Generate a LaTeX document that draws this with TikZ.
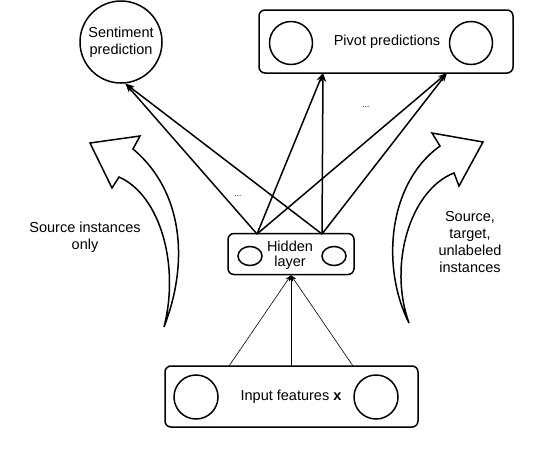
\documentclass[tikz,border=0pt]{standalone}
\usepackage{fontspec}
\setmainfont{Liberation Sans}
\usetikzlibrary{arrows.meta,shapes.geometric}
\begin{document}
\begin{tikzpicture}[x=1pt,y=-1pt,->,>={Stealth[length=9pt,width=6.5pt]},
                    line width=1.5pt,
                    every node/.style={font=\fontsize{14.5}{17}\selectfont},
                    layer box/.style={draw,rounded corners=6pt,inner sep=0pt},
                    unit/.style={draw,ellipse,inner sep=0pt},
                    dots/.style={font=\fontsize{8}{9}\selectfont}]

  \useasboundingbox (0,0) rectangle (538,456);

  % output side
  \node[circle,draw,minimum size=82pt,inner sep=0pt,align=center] (sent) at (121,42) {Sentiment\\prediction};
  \node[layer box,minimum width=254pt,minimum height=63pt] (piv) at (386,41.5) {};
  \node[unit,minimum width=43pt,minimum height=43pt] (piv1) at (291,43) {};
  \node[unit,minimum width=43pt,minimum height=43pt] (piv2) at (471,43) {};
  \node (pivlabel) at (387,42) {Pivot predictions};

  % hidden layer
  \node[layer box,minimum width=126pt,minimum height=41pt] (hid) at (291,254) {};
  \node[unit,minimum width=24pt,minimum height=19pt] (hid1) at (250,256) {};
  \node[unit,minimum width=24pt,minimum height=19pt] (hid2) at (334,256) {};
  \node[align=center,font=\fontsize{14.5}{15.5}\selectfont] (hidlabel) at (290,255) {Hidden\\layer};

  % input layer
  \node[layer box,minimum width=253pt,minimum height=61pt] (inp) at (291.5,396.5) {};
  \node[unit,minimum width=44pt,minimum height=44pt] (inp1) at (196,397) {};
  \node[unit,minimum width=44pt,minimum height=44pt] (inp2) at (376,397) {};
  \node (inplabel) at (291,397) {Input features \textbf{x}};

  \coordinate (hA) at (257,234);
  \coordinate (hB) at (322,234);
  \coordinate (pA) at (323,73);
  \coordinate (pB) at (447,73);
  \coordinate (x1) at (229,366);
  \coordinate (x2) at (291,366);
  \coordinate (x3) at (353,366);

  \path
    (hA) edge (sent.-84)
         edge (pA)
         edge (pB)
    (hB) edge (sent.-84)
         edge (pA)
         edge (pB);

  \path[line width=0.6pt,>={Stealth[length=6pt,width=4.5pt]}]
    (x1) edge (hid.south)
    (x2) edge (hid.south)
    (x3) edge (hid.south);

  \node[dots] (dotsL) at (238,196) {...};
  \node[dots] (dotsR) at (366,107) {...};

  % curved block arrows
  \draw[-] (164,327) .. controls (190,260) and (182,190) .. (133,149)
    -- (140,136) -- (90,143) -- (112,188) -- (119,177)
    .. controls (160,195) and (180,265) .. (164,327);
  \draw[-] (409,323) .. controls (382,270) and (386,185) .. (440,146)
    -- (432,133) -- (483,142) -- (459,186) -- (454,173)
    .. controls (410,190) and (388,265) .. (409,323);

  \node[align=center] (srclabel) at (85,237) {Source instances\\only};
  \node[align=center] (alllabel) at (470,242) {Source,\\target,\\unlabeled\\instances};
\end{tikzpicture}
\end{document}
